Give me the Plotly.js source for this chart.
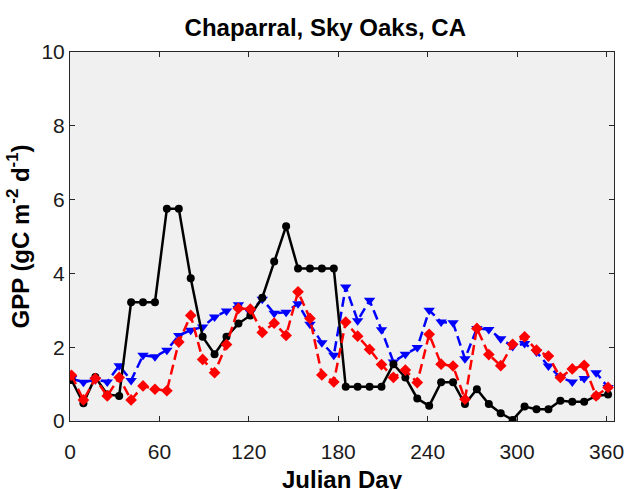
<!DOCTYPE html>
<html>
<head>
<meta charset="utf-8">
<script src="https://cdn.plot.ly/plotly-3.0.1.min.js"></script>
<style>
  html, body { margin: 0; padding: 0; background: #ffffff; }
  #chart { width: 628px; height: 489px; }
</style>
</head>
<body>
<div id="chart"></div>
<script>
// 8-day composite periods (Julian day of each composite start)
const julianDays = [1, 9, 17, 25, 33, 41, 49, 57, 65, 73, 81, 89, 97, 105, 113, 121,
  129, 137, 145, 153, 161, 169, 177, 185, 193, 201, 209, 217, 225, 233, 241, 249,
  257, 265, 273, 281, 289, 297, 305, 313, 321, 329, 337, 345, 353, 361];

// Tower-observed GPP (black, solid)
const gppTower = [1.11, 0.48, 1.19, 0.72, 0.68, 3.22, 3.22, 3.22, 5.75, 5.75, 3.87, 2.28,
  1.81, 2.28, 2.64, 2.86, 3.34, 4.32, 5.28, 4.13, 4.13, 4.13, 4.13, 0.93, 0.93, 0.93,
  0.93, 1.54, 1.18, 0.61, 0.41, 1.05, 1.05, 0.46, 0.86, 0.46, 0.21, 0.03, 0.39, 0.32,
  0.32, 0.55, 0.52, 0.52, 0.68, 0.72];

// Model estimate A (blue, dashed, down triangles)
const gppModelA = [1.15, 1.05, 1.12, 1.06, 1.50, 1.10, 1.78, 1.74, 1.92, 2.32, 2.46, 2.55,
  2.82, 2.98, 3.15, 2.95, 3.30, 2.92, 2.95, 3.18, 2.62, 2.12, 1.78, 3.63, 2.72, 3.27,
  2.47, 1.60, 1.81, 1.99, 3.00, 2.68, 2.66, 1.69, 2.51, 2.48, 2.23, 2.02, 2.10, 1.87,
  1.49, 1.18, 1.06, 1.15, 1.31, 0.91];

// Model estimate B (red, dashed, diamonds)
const gppModelB = [1.24, 0.57, 1.15, 0.68, 1.18, 0.57, 0.95, 0.86, 0.82, 2.14, 2.86, 1.67,
  1.31, 2.07, 3.05, 3.03, 2.40, 2.65, 2.32, 3.50, 2.78, 1.25, 1.06, 2.68, 2.30, 1.94,
  1.53, 1.18, 1.38, 1.04, 2.35, 1.54, 1.49, 0.59, 2.51, 1.80, 1.50, 2.08, 2.28, 1.92,
  1.76, 1.18, 1.41, 1.51, 0.68, 0.91];

const xTicks = [0, 60, 120, 180, 240, 300, 360];
const yTicks = [0, 2, 4, 6, 8, 10];

const FONT = 'Arial, "Liberation Sans", Helvetica, sans-serif';
const AXIS_COLOR = '#262626';

const traces = [
  {
    x: julianDays, y: gppModelA, type: 'scatter', mode: 'lines+markers',
    line: { color: '#0000ff', width: 2.5, dash: '10px,5px' },
    marker: { symbol: 'triangle-down', size: 10, color: '#0000ff' },
    hoverinfo: 'x+y'
  },
  {
    x: julianDays, y: gppTower, type: 'scatter', mode: 'lines+markers',
    line: { color: '#000000', width: 2.5 },
    marker: { symbol: 'circle', size: 8, color: '#000000' },
    hoverinfo: 'x+y'
  },
  {
    x: julianDays, y: gppModelB, type: 'scatter', mode: 'lines+markers',
    line: { color: '#ff0000', width: 2.5, dash: '10px,5px' },
    marker: { symbol: 'diamond', size: 9, color: '#ff0000' },
    hoverinfo: 'x+y'
  }
];

const layout = {
  width: 628, height: 489,
  margin: { l: 70, r: 14, t: 52, b: 68 },
  paper_bgcolor: '#ffffff',
  plot_bgcolor: '#f0f0f0',
  showlegend: false,
  font: { family: FONT, color: '#000000' },
  title: {
    text: '<b>Chaparral, Sky Oaks, CA</b>',
    font: { family: FONT, size: 24, color: '#000000' },
    xref: 'container', x: 0.518, xanchor: 'center',
    yref: 'container', y: 0.943, yanchor: 'middle'
  },
  xaxis: {
    range: [0, 365],
    tickvals: xTicks, ticktext: xTicks.map(String),
    ticks: 'inside', ticklen: 5, tickwidth: 1, tickcolor: AXIS_COLOR,
    ticklabelstandoff: 12,
    showline: true, linecolor: AXIS_COLOR, linewidth: 1, mirror: 'ticks',
    showgrid: false, zeroline: false,
    tickfont: { family: FONT, size: 21, color: '#1a1a1a' }
  },
  yaxis: {
    range: [0, 10],
    tickvals: yTicks, ticktext: yTicks.map(String),
    ticks: 'inside', ticklen: 5, tickwidth: 1, tickcolor: AXIS_COLOR,
    showline: true, linecolor: AXIS_COLOR, linewidth: 1, mirror: 'ticks',
    showgrid: false, zeroline: false,
    tickfont: { family: FONT, size: 21, color: '#1a1a1a' },
    title: { text: '<b>GPP (gC m<sup>-2</sup> d<sup>-1</sup>)</b>', font: { family: FONT, size: 24, color: '#000000' }, standoff: 5 }
  },
  annotations: [
    {
      // x-axis title, set below the tick labels
      text: '<b>Julian Day</b>',
      font: { family: FONT, size: 24, color: '#000000' },
      xref: 'paper', x: 0.5, xanchor: 'center',
      yref: 'paper', y: -0.158, yanchor: 'middle',
      showarrow: false
    }
  ]
};

Plotly.newPlot('chart', traces, layout, { displayModeBar: false, staticPlot: true });
</script>
</body>
</html>
